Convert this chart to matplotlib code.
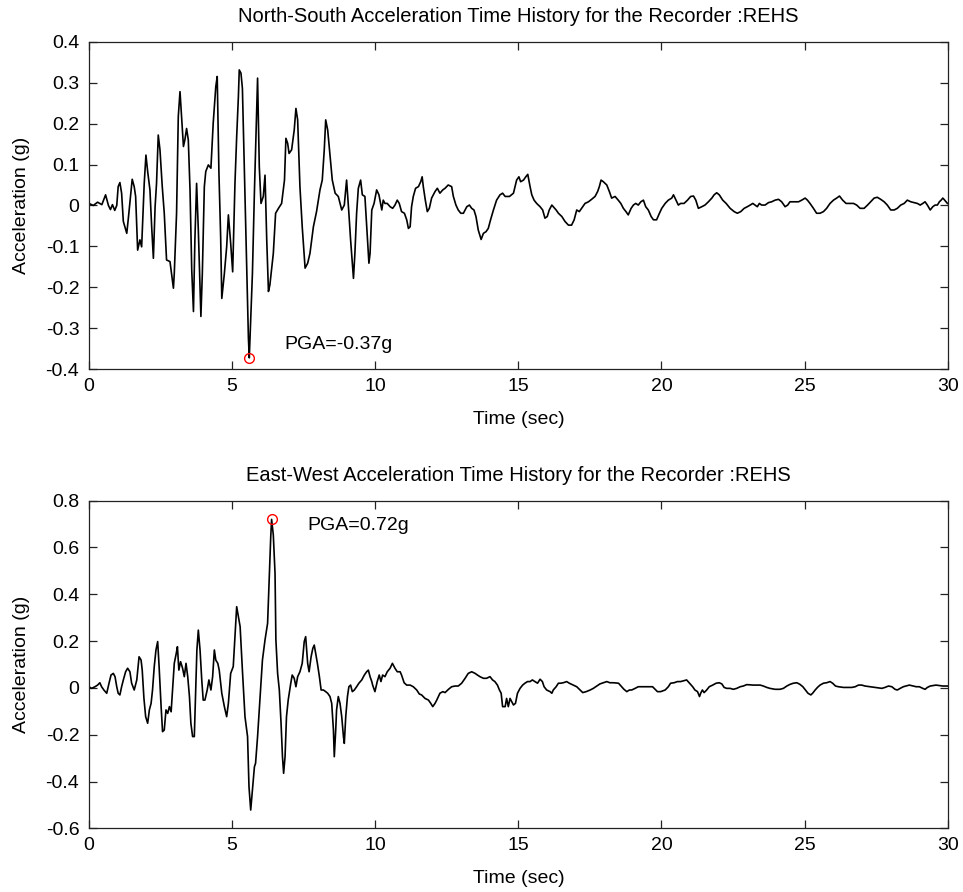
import numpy as np
import matplotlib.pyplot as plt
from matplotlib.ticker import FuncFormatter

plt.rcParams['font.family'] = ['Liberation Sans', 'DejaVu Sans']
plt.rcParams['axes.unicode_minus'] = False

RECORDER = 'REHS'

# (time s, acceleration g)
ns_points = [
  (0.00, 0.005), (0.15, 0.000), (0.30, 0.008), (0.45, 0.002), (0.58, 0.026),
  (0.68, 0.000), (0.75, -0.010), (0.82, 0.002), (0.90, -0.012), (0.97, 0.000),
  (1.02, 0.046), (1.08, 0.056), (1.14, 0.030), (1.20, -0.039), (1.32, -0.068),
  (1.37, -0.035), (1.51, 0.064), (1.58, 0.046), (1.63, 0.022), (1.70, -0.109),
  (1.78, -0.084), (1.84, -0.101), (1.93, 0.054), (1.99, 0.123), (2.05, 0.083),
  (2.13, 0.038), (2.19, -0.052), (2.25, -0.129), (2.31, -0.003), (2.36, 0.054),
  (2.42, 0.172), (2.48, 0.136), (2.56, 0.046), (2.63, -0.019), (2.71, -0.133),
  (2.83, -0.137), (2.95, -0.202), (2.98, -0.166), (3.06, -0.019), (3.12, 0.217),
  (3.18, 0.278), (3.24, 0.213), (3.30, 0.144), (3.35, 0.160), (3.41, 0.188),
  (3.47, 0.160), (3.53, 0.038), (3.59, -0.158), (3.65, -0.259), (3.70, -0.084),
  (3.76, 0.054), (3.82, -0.060), (3.91, -0.271), (3.96, -0.166), (4.03, 0.046),
  (4.08, 0.083), (4.17, 0.099), (4.26, 0.091), (4.34, 0.201), (4.43, 0.290),
  (4.48, 0.315), (4.54, 0.079), (4.60, -0.076), (4.64, -0.227), (4.73, -0.166),
  (4.81, -0.101), (4.87, -0.023), (4.95, -0.092), (5.02, -0.162), (5.10, 0.054),
  (5.16, 0.168), (5.22, 0.266), (5.25, 0.331), (5.31, 0.323), (5.36, 0.286),
  (5.43, 0.079), (5.51, -0.149), (5.57, -0.324), (5.60, -0.372), (5.71, -0.166),
  (5.78, 0.034), (5.84, 0.184), (5.89, 0.311), (5.95, 0.095), (6.01, 0.005),
  (6.09, 0.022), (6.15, 0.074), (6.21, -0.084), (6.27, -0.210), (6.32, -0.194),
  (6.44, -0.117), (6.52, -0.019), (6.62, -0.007), (6.73, 0.005), (6.83, 0.062),
  (6.88, 0.164), (6.94, 0.152), (6.99, 0.127), (7.08, 0.136), (7.17, 0.184),
  (7.23, 0.237), (7.29, 0.209), (7.37, 0.046), (7.45, -0.052), (7.55, -0.153),
  (7.64, -0.141), (7.72, -0.117), (7.84, -0.052), (7.95, -0.015), (8.07, 0.038),
  (8.15, 0.062), (8.22, 0.136), (8.27, 0.209), (8.34, 0.184), (8.42, 0.123),
  (8.50, 0.062), (8.60, 0.030), (8.71, 0.022), (8.83, -0.011), (8.92, 0.001),
  (9.00, 0.062), (9.08, -0.019), (9.14, -0.084), (9.24, -0.178), (9.29, -0.117),
  (9.35, -0.019), (9.41, 0.042), (9.49, 0.062), (9.55, 0.026), (9.64, 0.022),
  (9.74, -0.092), (9.78, -0.141), (9.82, -0.117), (9.88, -0.011), (9.96, 0.005),
  (10.05, 0.038), (10.13, 0.026), (10.23, -0.011), (10.28, 0.013), (10.34, 0.005),
  (10.42, 0.005), (10.52, -0.003), (10.61, -0.007), (10.69, 0.001), (10.77, 0.013),
  (10.84, 0.005), (10.92, -0.015), (11.02, -0.019), (11.10, -0.035), (11.16, -0.056),
  (11.22, -0.052), (11.27, -0.003), (11.33, 0.022), (11.41, 0.042), (11.51, 0.046),
  (11.59, 0.058), (11.64, 0.070), (11.68, 0.046), (11.75, 0.013), (11.82, -0.015),
  (11.89, -0.007), (11.97, 0.018), (12.09, 0.034), (12.17, 0.042), (12.26, 0.030),
  (12.36, 0.038), (12.44, 0.042), (12.55, 0.050), (12.67, 0.046), (12.73, 0.022),
  (12.82, 0.001), (12.90, -0.011), (12.99, -0.019), (13.08, -0.019), (13.20, -0.003),
  (13.29, 0.001), (13.37, -0.007), (13.45, -0.011), (13.52, -0.027), (13.60, -0.060),
  (13.70, -0.083), (13.78, -0.068), (13.87, -0.064), (13.95, -0.056), (14.03, -0.035),
  (14.13, -0.011), (14.24, 0.013), (14.36, 0.026), (14.45, 0.030), (14.54, 0.022),
  (14.69, 0.022), (14.83, 0.030), (14.94, 0.062), (15.02, 0.070), (15.08, 0.058),
  (15.18, 0.062), (15.26, 0.070), (15.33, 0.076), (15.41, 0.046), (15.47, 0.026),
  (15.55, 0.013), (15.64, 0.005), (15.76, -0.003), (15.85, -0.011), (15.93, -0.031),
  (16.01, -0.027), (16.08, -0.011), (16.17, 0.001), (16.22, -0.003), (16.32, -0.011),
  (16.40, -0.019), (16.52, -0.027), (16.63, -0.039), (16.75, -0.048), (16.86, -0.048),
  (16.95, -0.035), (17.04, -0.011), (17.13, -0.015), (17.21, -0.007), (17.33, 0.005),
  (17.45, 0.009), (17.56, 0.015), (17.68, 0.022), (17.77, 0.034), (17.83, 0.046),
  (17.89, 0.062), (17.97, 0.058), (18.09, 0.050), (18.18, 0.034), (18.26, 0.018),
  (18.38, 0.022), (18.49, 0.013), (18.58, 0.005), (18.67, -0.007), (18.76, -0.015),
  (18.84, -0.023), (18.94, -0.007), (19.02, 0.001), (19.10, 0.005), (19.19, 0.001),
  (19.28, 0.009), (19.37, 0.013), (19.45, -0.003), (19.54, -0.011), (19.64, -0.027),
  (19.72, -0.035), (19.83, -0.035), (19.93, -0.019), (20.01, -0.007), (20.13, 0.005),
  (20.24, 0.013), (20.36, 0.018), (20.42, 0.026), (20.51, 0.013), (20.59, 0.001),
  (20.67, 0.005), (20.79, 0.005), (20.91, 0.013), (21.02, 0.022), (21.12, 0.023),
  (21.20, 0.013), (21.29, -0.007), (21.41, -0.003), (21.52, 0.001), (21.64, 0.009),
  (21.76, 0.018), (21.84, 0.026), (21.93, 0.031), (22.02, 0.026), (22.14, 0.013),
  (22.26, 0.005), (22.40, -0.007), (22.54, -0.015), (22.65, -0.019), (22.77, -0.015),
  (22.89, -0.007), (23.00, -0.003), (23.10, 0.001), (23.19, 0.005), (23.27, 0.001),
  (23.35, -0.003), (23.42, 0.005), (23.50, 0.001), (23.62, 0.001), (23.74, 0.007),
  (23.85, 0.009), (23.97, 0.013), (24.09, 0.015), (24.20, 0.009), (24.32, -0.003),
  (24.41, 0.001), (24.49, 0.009), (24.61, 0.009), (24.79, 0.009), (24.90, 0.013),
  (25.02, 0.018), (25.10, 0.013), (25.19, 0.005), (25.31, -0.007), (25.42, -0.019),
  (25.54, -0.019), (25.66, -0.015), (25.77, -0.007), (25.89, 0.005), (26.01, 0.013),
  (26.12, 0.018), (26.22, 0.023), (26.33, 0.013), (26.45, 0.005), (26.59, 0.005),
  (26.71, 0.005), (26.82, 0.001), (26.94, -0.007), (27.08, -0.007), (27.20, 0.001),
  (27.31, 0.009), (27.43, 0.018), (27.54, 0.020), (27.66, 0.015), (27.78, 0.009),
  (27.89, 0.001), (28.01, -0.011), (28.13, -0.011), (28.24, -0.007), (28.36, 0.001),
  (28.48, 0.005), (28.59, 0.013), (28.71, 0.009), (28.83, 0.007), (28.94, 0.005),
  (29.04, 0.001), (29.13, 0.005), (29.21, 0.009), (29.29, 0.001), (29.39, -0.011),
  (29.48, -0.003), (29.56, 0.001), (29.64, 0.001), (29.71, 0.009), (29.77, 0.013),
  (29.83, 0.018), (29.87, 0.015), (29.94, 0.009), (29.99, 0.005),
]

# (time s, acceleration g)
ew_points = [
  (0.00, 0.005), (0.09, -0.002), (0.21, 0.005), (0.30, 0.012), (0.38, 0.022),
  (0.44, 0.005), (0.52, -0.009), (0.62, -0.023), (0.70, 0.020), (0.77, 0.055),
  (0.85, 0.062), (0.91, 0.048), (0.97, 0.005), (1.02, -0.023), (1.08, -0.030),
  (1.14, 0.005), (1.20, 0.034), (1.28, 0.069), (1.35, 0.084), (1.43, 0.069),
  (1.49, 0.020), (1.58, -0.009), (1.67, 0.034), (1.75, 0.133), (1.82, 0.119),
  (1.86, 0.076), (1.92, -0.045), (1.98, -0.123), (2.05, -0.151), (2.11, -0.094),
  (2.17, -0.066), (2.22, -0.009), (2.28, 0.091), (2.34, 0.162), (2.40, 0.198),
  (2.45, 0.091), (2.52, -0.080), (2.57, -0.187), (2.63, -0.180), (2.69, -0.094),
  (2.75, -0.109), (2.81, -0.080), (2.87, -0.102), (2.92, -0.009), (2.98, 0.105),
  (3.05, 0.148), (3.09, 0.176), (3.14, 0.076), (3.20, 0.112), (3.27, 0.084),
  (3.33, 0.048), (3.39, 0.105), (3.45, 0.048), (3.51, -0.037), (3.56, -0.151),
  (3.62, -0.208), (3.68, -0.208), (3.73, -0.009), (3.77, 0.162), (3.82, 0.247),
  (3.88, 0.162), (3.94, 0.034), (3.99, -0.052), (4.05, -0.052), (4.13, -0.009),
  (4.19, 0.034), (4.26, -0.009), (4.32, 0.048), (4.38, 0.162), (4.43, 0.119),
  (4.50, 0.105), (4.55, 0.076), (4.64, -0.023), (4.73, -0.080), (4.81, -0.123),
  (4.87, -0.066), (4.95, 0.062), (5.04, 0.091), (5.10, 0.219), (5.16, 0.347),
  (5.22, 0.304), (5.28, 0.262), (5.36, 0.076), (5.45, -0.123), (5.54, -0.208),
  (5.59, -0.422), (5.65, -0.522), (5.71, -0.436), (5.78, -0.337), (5.82, -0.322),
  (5.89, -0.208), (5.97, -0.052), (6.06, 0.119), (6.15, 0.205), (6.24, 0.276),
  (6.30, 0.475), (6.35, 0.646), (6.38, 0.720), (6.44, 0.653), (6.50, 0.489),
  (6.53, 0.205), (6.59, 0.062), (6.65, -0.009), (6.71, -0.151), (6.76, -0.294),
  (6.80, -0.365), (6.85, -0.294), (6.90, -0.123), (6.96, -0.052), (7.05, 0.020),
  (7.10, 0.055), (7.17, 0.041), (7.23, 0.005), (7.29, 0.048), (7.37, 0.069),
  (7.45, 0.105), (7.52, 0.198), (7.57, 0.219), (7.64, 0.105), (7.69, 0.069),
  (7.76, 0.133), (7.82, 0.169), (7.87, 0.183), (7.92, 0.148), (7.98, 0.105),
  (8.05, 0.048), (8.11, -0.009), (8.19, -0.009), (8.27, -0.016), (8.34, -0.023),
  (8.42, -0.037), (8.48, -0.066), (8.54, -0.180), (8.57, -0.294), (8.62, -0.180),
  (8.65, -0.094), (8.71, -0.037), (8.77, -0.066), (8.83, -0.123), (8.89, -0.208),
  (8.92, -0.237), (8.97, -0.123), (9.03, -0.037), (9.08, 0.005), (9.14, 0.012),
  (9.20, -0.016), (9.27, -0.009), (9.35, 0.005), (9.43, 0.020), (9.53, 0.034),
  (9.62, 0.055), (9.70, 0.069), (9.76, 0.076), (9.82, 0.048), (9.88, 0.027),
  (9.91, 0.012), (9.99, -0.016), (10.07, 0.027), (10.14, 0.055), (10.20, 0.027),
  (10.26, 0.055), (10.34, 0.048), (10.42, 0.069), (10.52, 0.084), (10.60, 0.105),
  (10.69, 0.084), (10.77, 0.069), (10.87, 0.069), (10.92, 0.055), (11.01, 0.022),
  (11.10, 0.012), (11.22, 0.012), (11.33, 0.005), (11.45, -0.009), (11.54, -0.026),
  (11.62, -0.030), (11.74, -0.045), (11.86, -0.052), (11.94, -0.066), (12.01, -0.080),
  (12.09, -0.066), (12.15, -0.052), (12.26, -0.023), (12.36, -0.016), (12.44, -0.020),
  (12.56, -0.006), (12.67, 0.005), (12.79, 0.008), (12.90, 0.008), (13.02, 0.020),
  (13.14, 0.041), (13.25, 0.062), (13.37, 0.069), (13.49, 0.062), (13.57, 0.055),
  (13.66, 0.048), (13.78, 0.041), (13.89, 0.041), (14.01, 0.048), (14.10, 0.034),
  (14.18, 0.027), (14.27, 0.012), (14.34, -0.009), (14.40, -0.023), (14.45, -0.080),
  (14.54, -0.080), (14.59, -0.045), (14.65, -0.080), (14.71, -0.045), (14.77, -0.059),
  (14.83, -0.073), (14.90, -0.066), (14.97, -0.023), (15.06, -0.002), (15.15, 0.012),
  (15.23, 0.020), (15.32, 0.027), (15.41, 0.027), (15.49, 0.034), (15.58, 0.027),
  (15.67, 0.020), (15.76, 0.037), (15.84, 0.027), (15.90, 0.005), (15.99, -0.009),
  (16.11, -0.016), (16.17, -0.023), (16.22, -0.009), (16.32, 0.005), (16.40, 0.020),
  (16.48, 0.020), (16.57, 0.022), (16.69, 0.027), (16.78, 0.020), (16.92, 0.012),
  (17.04, 0.005), (17.16, -0.009), (17.25, -0.020), (17.37, -0.016), (17.51, -0.009),
  (17.62, -0.002), (17.74, 0.008), (17.85, 0.017), (17.97, 0.022), (18.09, 0.027),
  (18.20, 0.022), (18.32, 0.022), (18.50, 0.020), (18.61, 0.005), (18.69, -0.006),
  (18.79, -0.016), (18.88, -0.009), (18.96, -0.009), (19.08, -0.002), (19.19, 0.005),
  (19.37, 0.005), (19.54, 0.005), (19.69, 0.005), (19.78, -0.006), (19.86, -0.016),
  (19.97, -0.016), (20.13, -0.009), (20.24, 0.005), (20.32, 0.020), (20.44, 0.022),
  (20.56, 0.027), (20.67, 0.027), (20.79, 0.031), (20.88, 0.034), (20.98, 0.020),
  (21.09, 0.005), (21.17, -0.009), (21.26, -0.016), (21.33, -0.037), (21.37, -0.023),
  (21.43, -0.009), (21.49, -0.020), (21.58, -0.009), (21.67, 0.005), (21.79, 0.012),
  (21.91, 0.020), (22.02, 0.022), (22.11, 0.017), (22.19, 0.002), (22.28, -0.002),
  (22.40, -0.002), (22.51, -0.006), (22.63, -0.002), (22.75, 0.005), (22.86, 0.008),
  (22.98, 0.014), (23.21, 0.012), (23.45, 0.012), (23.56, 0.008), (23.68, 0.002),
  (23.79, -0.002), (23.97, -0.006), (24.14, -0.006), (24.26, -0.002), (24.38, 0.008),
  (24.49, 0.015), (24.61, 0.020), (24.73, 0.022), (24.84, 0.015), (24.94, 0.005),
  (25.03, -0.009), (25.12, -0.023), (25.22, -0.030), (25.28, -0.023), (25.37, -0.009),
  (25.45, 0.002), (25.54, 0.012), (25.66, 0.020), (25.77, 0.022), (25.89, 0.027),
  (25.98, 0.020), (26.08, 0.008), (26.18, 0.005), (26.36, 0.002), (26.65, 0.002),
  (26.77, 0.005), (26.88, 0.012), (27.00, 0.012), (27.11, 0.008), (27.29, 0.005),
  (27.46, 0.002), (27.70, -0.002), (27.81, 0.002), (27.93, 0.008), (28.05, 0.005),
  (28.16, -0.006), (28.24, -0.009), (28.34, -0.002), (28.45, 0.005), (28.66, 0.012),
  (28.90, 0.005), (29.01, 0.005), (29.13, -0.002), (29.21, -0.006), (29.29, 0.002),
  (29.39, 0.008), (29.59, 0.012), (29.83, 0.008), (29.99, 0.008),
]

components = ['North-South', 'East-West']
ylims = [(-0.4, 0.4), (-0.6, 0.8)]
ytick_steps = [0.1, 0.2]
xticks = [0, 5, 10, 15, 20, 25, 30]
# where the PGA note sits relative to the peak (sec, g)
note_offsets = [(1.22, 0.032), (1.26, -0.024)]

fig = plt.figure(figsize=(9.63, 8.92), dpi=100)
boxes = [[0.0924, 0.586, 0.8917, 0.3673], [0.0924, 0.0714, 0.8917, 0.3673]]

for i, pts in enumerate([ns_points, ew_points]):
  t, acc = np.array(pts).T
  ax = fig.add_axes(boxes[i])
  ax.plot(t, acc, color='black', lw=1.2)
  k = np.argmax(np.abs(acc))
  pga = acc[k]
  ax.plot(t[k], pga, 'o', mfc='none', mec='red', ms=7, mew=1.0)
  dx, dy = note_offsets[i]
  ax.text(t[k] + dx, pga + dy, f'PGA={pga:.2f}g', fontsize=14, va='center', ha='left')

  lo, hi = ylims[i]
  ax.set_xlim(0, 30)
  ax.set_ylim(lo, hi)
  ax.set_xticks(xticks)
  ax.set_yticks(np.arange(lo, hi + 1e-9, ytick_steps[i]))
  ax.yaxis.set_major_formatter(FuncFormatter(lambda v, p: f'{round(v, 2) + 0:g}'))
  ax.tick_params(direction='in', top=True, right=True, length=6, width=0.9,
                 labelsize=14, color='#222222')
  ax.tick_params(axis='x', pad=6)
  ax.tick_params(axis='y', pad=7)
  for s in ax.spines.values():
    s.set_linewidth(0.9)
    s.set_color('#222222')
  ax.set_title(f'{components[i]} Acceleration Time History for the Recorder :{RECORDER}',
               fontsize=14.5, pad=14)
  ax.set_xlabel('Time (sec)', fontsize=14, labelpad=12)
  ax.set_ylabel('Acceleration (g)', fontsize=14, labelpad=11)

fig.savefig('out.png', dpi=100, facecolor='white')
